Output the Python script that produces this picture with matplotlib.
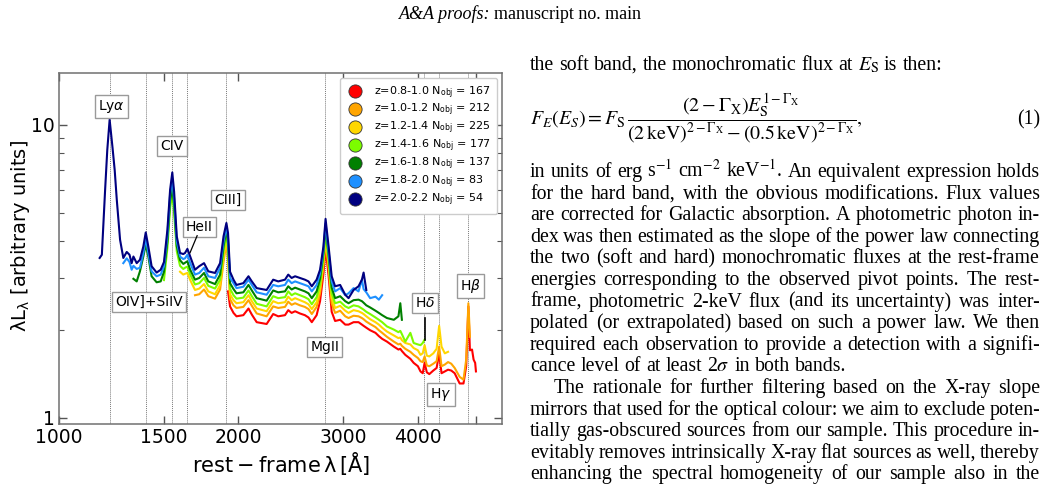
import numpy as np
import matplotlib
matplotlib.use('Agg')
import matplotlib.pyplot as plt
from matplotlib.lines import Line2D
from matplotlib.ticker import FixedLocator, NullLocator, NullFormatter, FixedFormatter, LogLocator

# ---------------- data ----------------
wave = [1170, 1180, 1195, 1205, 1216, 1230, 1240, 1250, 1266, 1282,
        1299, 1313, 1324, 1333, 1350, 1367, 1385, 1398, 1412, 1430,
        1458, 1481, 1500, 1520, 1536, 1549, 1560, 1576, 1596, 1616,
        1627, 1642, 1660, 1691, 1719, 1751, 1780, 1827, 1863, 1888,
        1909, 1921, 1936, 1962, 1985, 2038, 2079, 2106, 2146, 2230,
        2287, 2332, 2394, 2424, 2456, 2489, 2536, 2585, 2621, 2655,
        2705, 2741, 2777, 2800, 2833, 2867, 2905, 2962, 3021, 3060,
        3120, 3180, 3222, 3243, 3277, 3326, 3395, 3440, 3484, 3549,
        3645, 3710, 3737, 3760, 3810, 3885, 3935, 4000, 4040, 4075,
        4105, 4140, 4180, 4245, 4300, 4342, 4382, 4438, 4494, 4550,
        4610, 4700, 4770, 4820, 4861, 4890, 4930, 4960, 4990, 5005]

# each series starts at the given wavelength of the grid
start_z20 = 1170
flux_z20 = [3.51, 3.60, 6.00, 8.20, 10.4, 8.30, 7.00, 5.55, 4.05, 3.51,
            3.68, 3.60, 3.37, 3.55, 3.37, 3.46, 3.84, 4.29, 3.84, 3.29,
            3.13, 3.20, 3.40, 4.38, 6.00, 6.87, 5.90, 4.16, 3.65, 3.62,
            3.65, 3.77, 3.55, 3.20, 3.29, 3.37, 3.16, 3.12, 3.37, 4.16,
            4.62, 4.27, 3.15, 2.96, 2.84, 2.88, 3.04, 2.92, 2.77, 2.73,
            2.96, 2.92, 2.96, 3.08, 3.00, 3.04, 3.00, 2.96, 2.92, 2.81,
            2.96, 3.20, 3.84, 4.77, 3.84, 3.04, 2.81, 2.84, 2.63, 2.56,
            2.73, 2.81, 2.96, 3.13, 2.73]

start_z18 = 1282
flux_z18 = [3.37, 3.50, 3.40, 3.20, 3.30, 3.22, 3.25, 3.65, 4.10, 3.65,
            3.16, 3.04, 3.08, 3.29, 4.20, 5.80, 6.50, 5.60, 4.00, 3.55,
            3.48, 3.50, 3.60, 3.37, 3.08, 3.12, 3.25, 3.04, 3.00, 3.25,
            4.00, 4.50, 4.10, 3.00, 2.88, 2.77, 2.80, 2.96, 2.84, 2.68,
            2.63, 2.84, 2.81, 2.84, 2.96, 2.88, 2.92, 2.88, 2.84, 2.81,
            2.70, 2.84, 3.10, 3.75, 4.60, 3.70, 2.92, 2.70, 2.77, 2.62,
            2.66, 2.77, 2.70, 2.96, 2.75, 2.68, 2.56, 2.59, 2.53, 2.62]

start_z16 = 1333
flux_z16 = [2.98, 2.92, 3.16, 3.55, 3.90, 3.55, 3.04,
            2.90, 2.92, 3.15, 4.00, 5.50, 6.10, 5.30, 3.85, 3.45, 3.35,
            3.38, 3.42, 3.20, 2.96, 3.00, 3.12, 2.92, 2.86, 3.08, 3.85,
            4.38, 3.95, 2.88, 2.75, 2.66, 2.68, 2.84, 2.72, 2.56, 2.51,
            2.72, 2.68, 2.70, 2.81, 2.74, 2.78, 2.74, 2.70, 2.66, 2.56,
            2.70, 2.98, 3.65, 4.45, 3.60, 2.78, 2.56, 2.60, 2.50, 2.46,
            2.52, 2.53, 2.50, 2.47, 2.42, 2.38, 2.32, 2.28, 2.24, 2.19,
            2.16, 2.22, 2.46, 2.16]

start_z14 = 1500
flux_z14 = [2.95, 3.80, 5.20, 5.80, 5.00, 3.70, 3.30, 3.22,
            3.25, 3.28, 3.08, 2.85, 2.88, 3.00, 2.82, 2.76, 2.96, 3.70,
            4.20, 3.80, 2.76, 2.62, 2.55, 2.57, 2.72, 2.60, 2.45, 2.40,
            2.60, 2.56, 2.58, 2.70, 2.62, 2.66, 2.62, 2.58, 2.54, 2.44,
            2.58, 2.86, 3.50, 4.30, 3.45, 2.66, 2.46, 2.49, 2.40, 2.37,
            2.42, 2.40, 2.36, 2.34, 2.30, 2.26, 2.20, 2.16, 2.12, 2.05,
            2.00, 1.96, 1.98, 1.93, 1.82, 1.95, 1.80, 1.78, 1.77, 1.80,
            1.85]

start_z12 = 1596
flux_z12 = [3.15, 3.08,
            3.10, 3.12, 2.95, 2.73, 2.76, 2.86, 2.70, 2.64, 2.84, 3.55,
            4.05, 3.65, 2.64, 2.52, 2.46, 2.48, 2.62, 2.50, 2.36, 2.31,
            2.50, 2.46, 2.48, 2.59, 2.52, 2.56, 2.52, 2.48, 2.44, 2.35,
            2.48, 2.76, 3.40, 4.15, 3.35, 2.56, 2.37, 2.41, 2.32, 2.28,
            2.33, 2.31, 2.28, 2.26, 2.22, 2.17, 2.12, 2.08, 2.03, 1.97,
            1.91, 1.87, 1.88, 1.84, 1.80, 1.78, 1.73, 1.70, 1.64, 1.66,
            1.77, 1.63, 1.62, 1.66, 1.72, 2.06, 1.75, 1.66, 1.68]

start_z10 = 1691
flux_z10 = [2.62, 2.64, 2.74, 2.60, 2.55, 2.74, 3.40,
            3.95, 3.50, 2.54, 2.42, 2.37, 2.39, 2.52, 2.41, 2.27, 2.22,
            2.40, 2.37, 2.39, 2.49, 2.43, 2.46, 2.42, 2.39, 2.35, 2.26,
            2.39, 2.66, 3.30, 4.00, 3.25, 2.46, 2.28, 2.32, 2.22, 2.19,
            2.23, 2.22, 2.19, 2.17, 2.13, 2.09, 2.04, 1.99, 1.95, 1.89,
            1.82, 1.78, 1.79, 1.76, 1.72, 1.68, 1.64, 1.60, 1.56, 1.55,
            1.62, 1.51, 1.50, 1.53, 1.56, 1.75, 1.50, 1.52, 1.55, 1.53,
            1.48, 1.38, 1.35, 1.58, 2.46, 1.89]

start_z08 = 1921
flux_z08 = [2.70, 2.40, 2.28, 2.22, 2.24, 2.36, 2.25, 2.12, 2.09,
            2.26, 2.22, 2.24, 2.33, 2.28, 2.31, 2.27, 2.24, 2.20, 2.12,
            2.24, 2.50, 3.10, 3.80, 3.05, 2.30, 2.14, 2.16, 2.08, 2.08,
            2.12, 2.12, 2.08, 2.06, 2.03, 1.99, 1.95, 1.90, 1.86, 1.82,
            1.75, 1.71, 1.72, 1.69, 1.64, 1.59, 1.54, 1.50, 1.44, 1.42,
            1.54, 1.43, 1.41, 1.45, 1.48, 1.66, 1.42, 1.44, 1.46, 1.45,
            1.42, 1.31, 1.31, 1.50, 2.40, 1.70, 1.71, 1.58, 1.54, 1.44]

z_bins = ['0.8-1.0', '1.0-1.2', '1.2-1.4', '1.4-1.6', '1.6-1.8', '1.8-2.0', '2.0-2.2']
n_obj = [167, 212, 225, 177, 137, 83, 54]
colors = ['#ff0000', '#ffa500', '#ffd700', '#7cfc00', '#008000', '#1e90ff', '#000080']
starts = [start_z08, start_z10, start_z12, start_z14, start_z16, start_z18, start_z20]
fluxes = [flux_z08, flux_z10, flux_z12, flux_z14, flux_z16, flux_z18, flux_z20]

line_names = ['Ly$\\alpha$', 'OIV]+SiIV', 'CIV', 'HeII', 'CIII]', 'MgII',
              'H$\\delta$', 'H$\\gamma$', 'H$\\beta$']
line_waves = [1216, 1400, 1549, 1640, 1909, 2798, 4102, 4340, 4861]

# ---------------- figure ----------------
W, H = 1047, 492
fig = plt.figure(figsize=(W / 100, H / 100), dpi=100)
fig.patch.set_facecolor('white')
renderer = fig.canvas.get_renderer()

ax = fig.add_axes([59 / W, 1 - 424 / H, (502 - 59) / W, (424 - 73) / H])
ax.set_xscale('log')
ax.set_yscale('log')

for lw_ in line_waves:
    ax.axvline(lw_, color='#7a7a7a', ls=(0, (1, 1)), lw=0.7, zorder=1)

wave_arr = np.array(wave, dtype=float)
for st, fl, c in zip(starts, fluxes, colors):
    i0 = wave.index(st)
    ax.plot(wave_arr[i0:i0 + len(fl)], fl, color=c, lw=1.5, zorder=3)

ax.set_xlim(1000, 5535)
ax.set_ylim(0.953, 15.0)

ax.xaxis.set_major_locator(FixedLocator([1000, 1500, 2000, 3000, 4000, 5000]))
ax.xaxis.set_major_formatter(FixedFormatter(['1000', '1500', '2000', '3000', '4000', '']))
ax.xaxis.set_minor_locator(NullLocator())
ax.yaxis.set_major_locator(FixedLocator([1, 10]))
ax.yaxis.set_major_formatter(FixedFormatter(['1', '10']))
ax.yaxis.set_minor_locator(LogLocator(base=10, subs=np.arange(2, 10)))
ax.yaxis.set_minor_formatter(NullFormatter())
ax.tick_params(which='both', direction='in', top=True, right=True, color='#555555')
ax.tick_params(which='major', length=6, width=1.0, labelsize=13.5, pad=3)
ax.tick_params(which='minor', length=3.5, width=0.8)
for sp in ax.spines.values():
    sp.set_color('#707070')
    sp.set_linewidth(1.1)

ax.set_xlabel(r'$\mathrm{rest-frame}\,\mathrm{\lambda}\,[\mathrm{\AA}]$', fontsize=15, labelpad=2)
ax.set_ylabel(r'λL$_{\mathrm{\lambda}}$ [arbitrary units]', fontsize=14)
ax.yaxis.set_label_coords(-0.062, 0.535)

# line labels (layout positions)
lab_x = [1226, 1415, 1548, 1720, 1921, 2792, 4113, 4372, 4893]
lab_y = [11.5, 2.48, 8.46, 4.47, 5.53, 1.74, 2.47, 1.198, 2.82]
for name, x, y in zip(line_names, lab_x, lab_y):
    ax.text(x, y, name, ha='center', va='center', fontsize=10, zorder=6,
            bbox=dict(boxstyle='square,pad=0.22', fc='white', ec='#9a9a9a', lw=1.0))
ax.plot([1705, 1659], [4.18, 3.66], color='black', lw=0.9, zorder=6)
ax.plot([4115, 4115], [2.19, 1.85], color='black', lw=1.2, zorder=6)

handles = [Line2D([], [], ls='', marker='o', markersize=9.5, markerfacecolor=c,
                  markeredgecolor='#333333', markeredgewidth=0.6) for c in colors]
labels = ['z=%s N$_{\\rm obj}$ = %d' % (z, n) for z, n in zip(z_bins, n_obj)]
leg = ax.legend(handles, labels, loc='upper right', fontsize=8, labelspacing=0.14,
                handletextpad=0.9, borderpad=0.55, borderaxespad=0.45, fancybox=True,
                framealpha=1.0, edgecolor='#cccccc', handlelength=1.6)
leg.set_zorder(10)

# ---------------- page text ----------------
SERIF = 'Liberation Serif'
BODY = 14.3


def measure(t):
    return t.get_window_extent(renderer).width


def header():
    t1 = fig.text(0, 1 - 19 / H, 'A&A proofs:', fontsize=13, family=SERIF, style='italic', va='baseline')
    t2 = fig.text(0, 1 - 19 / H, 'manuscript no. main', fontsize=13, family=SERIF, va='baseline')
    w1, w2 = measure(t1), measure(t2)
    sp = 3.5
    x0 = 520 - (w1 + sp + w2) / 2
    t1.set_x(x0 / W)
    t2.set_x((x0 + w1 + sp) / W)


header()

X0, X1 = 530, 1040


def place_line(text, yb, justify=True, indent=0, size=BODY):
    words = text.split(' ')
    ts = [fig.text(0, 1 - yb / H, w, fontsize=size, family=SERIF, math_fontfamily='stix',
                   va='baseline', ha='left') for w in words]
    ws = [measure(t) for t in ts]
    x0 = X0 + indent
    if justify and len(words) > 1:
        gap = (X1 - x0 - sum(ws)) / (len(words) - 1)
    else:
        gap = 0.25 * size * 100 / 72
    x = x0
    for t, w in zip(ts, ws):
        t.set_x(x / W)
        x += w + gap


place_line(r'the soft band, the monochromatic flux at $E_\mathrm{S}$ is then:', 70, justify=False)

fig.text(X0 / W, 1 - 124 / H,
         r'$F_E(E_S) = F_\mathrm{S}\,\dfrac{(2-\Gamma_\mathrm{X})E_\mathrm{S}^{1-\Gamma_\mathrm{X}}}'
         r'{(2\,\mathrm{keV})^{2-\Gamma_\mathrm{X}}-(0.5\,\mathrm{keV})^{2-\Gamma_\mathrm{X}}},$',
         fontsize=BODY, family=SERIF, math_fontfamily='stix', va='baseline', ha='left')
fig.text(X1 / W, 1 - 124 / H, '(1)', fontsize=BODY, family=SERIF, va='baseline', ha='right')

body = [
    (r'in units of erg s$^{-1}$ cm$^{-2}$ keV$^{-1}$. An equivalent expression holds', True, 0),
    ('for the hard band, with the obvious modifications. Flux values', True, 0),
    ('are corrected for Galactic absorption. A photometric photon in-', True, 0),
    ('dex was then estimated as the slope of the power law connecting', True, 0),
    ('the two (soft and hard) monochromatic fluxes at the rest-frame', True, 0),
    ('energies corresponding to the observed pivot points. The rest-', True, 0),
    ('frame, photometric 2-keV flux (and its uncertainty) was inter-', True, 0),
    ('polated (or extrapolated) based on such a power law. We then', True, 0),
    ('required each observation to provide a detection with a signifi-', True, 0),
    (r'cance level of at least 2$\sigma$ in both bands.', False, 0),
    ('The rationale for further filtering based on the X-ray slope', True, 24),
    ('mirrors that used for the optical colour: we aim to exclude poten-', True, 0),
    ('tially gas-obscured sources from our sample. This procedure in-', True, 0),
    ('evitably removes intrinsically X-ray flat sources as well, thereby', True, 0),
    ('enhancing the spectral homogeneity of our sample also in the', True, 0),
]
y = 177
for txt, just, ind in body:
    place_line(txt, y, justify=just, indent=ind)
    y += 21.6

fig.savefig('out.png', dpi=100, facecolor='white')
